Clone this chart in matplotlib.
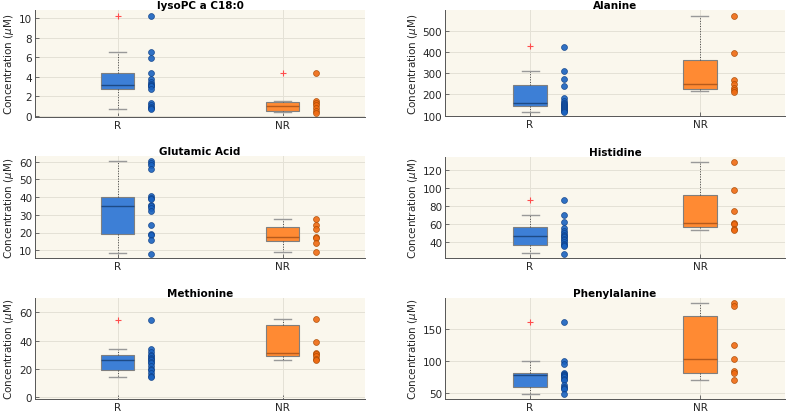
import matplotlib
matplotlib.use("Agg")
import matplotlib.pyplot as plt
import numpy as np

groups = ["R", "NR"]
titles = ["lysoPC a C18:0", "Alanine", "Glutamic Acid", "Histidine", "Methionine", "Phenylalanine"]

# raw points (R, NR) per metabolite
lyso_r = [10.2, 6.5, 5.9, 4.4, 3.8, 3.5, 3.3, 3.2, 3.1, 3.0, 2.7, 1.3, 1.1, 0.9, 0.8, 0.7]
lyso_nr = [4.4, 1.5, 1.3, 1.1, 0.8, 0.5, 0.3]
ala_r = [425, 310, 270, 240, 185, 170, 160, 155, 150, 145, 140, 135, 130, 125, 120, 115]
ala_nr = [570, 393, 268, 248, 232, 222, 213]
glu_r = [60.5, 59.5, 58, 56, 40.5, 39.5, 39, 35.5, 35, 34, 32, 24, 19, 18.5, 15.5, 8]
glu_nr = [27.5, 24, 22, 17.5, 17, 14, 9]
his_r = [87, 70, 63, 56, 53, 50, 48, 47, 46, 44, 42, 40, 38, 37, 36, 27.5]
his_nr = [129, 98, 75, 61, 60, 55, 53.5]
met_r = [54.5, 34, 32, 30, 29, 28, 27, 26, 25, 24, 22, 20, 19, 17, 15, 14]
met_nr = [55, 39, 31.5, 30.5, 29, 27, 26]
phe_r = [160, 100, 96, 81, 80, 79, 78, 77, 75, 72, 70, 62, 60, 58, 57, 48]
phe_nr = [190, 185, 125, 103, 84, 82, 70]

# box stats: q1, med, q3, whislo, whishi, fliers
lyso_box = [(2.7, 3.2, 4.4, 0.7, 6.5, [10.2]), (0.5, 1.05, 1.42, 0.35, 1.5, [4.4])]
ala_box = [(144, 158, 243, 119, 312, [426]), (223, 250, 361, 215, 570, [])]
glu_box = [(19, 35, 40, 8.5, 60.5, []), (15, 17.5, 23, 9, 27.5, [])]
his_box = [(37, 47, 56.5, 28, 70.5, [87]), (56.5, 61, 92, 53.5, 129, [])]
met_box = [(19.5, 26, 30, 14.5, 34, [54.5]), (29, 31.5, 51, 26, 55, [])]
phe_box = [(60, 78, 81, 48, 100, [160]), (82, 103, 170, 70, 190, [])]

points = [(lyso_r, lyso_nr), (ala_r, ala_nr), (glu_r, glu_nr),
          (his_r, his_nr), (met_r, met_nr), (phe_r, phe_nr)]
boxes = [lyso_box, ala_box, glu_box, his_box, met_box, phe_box]
ylims = [(-0.13, 10.85), (98, 597), (5.6, 63.2), (22.6, 134.4), (-1.2, 70), (41, 198)]
yticks = [[0, 2, 4, 6, 8, 10], [100, 200, 300, 400, 500], [10, 20, 30, 40, 50, 60],
          [40, 60, 80, 100, 120], [0, 20, 40, 60], [50, 100, 150]]

box_face = ["#3d7fd6", "#ff8a33"]
med_col = ["#1d4a85", "#b55a1c"]
dot_face = ["#1a62c0", "#ef6a12"]
dot_edge = ["#0d3f86", "#a84800"]

W, H = 787, 414
fig = plt.figure(figsize=(W / 100, H / 100), dpi=100)
fig.patch.set_facecolor("white")

# pixel boxes: (x0, x1, y0, y1)
rects = [(35, 365, 11, 118), (445, 785, 11, 117),
         (35, 365, 157, 259), (445, 785, 158, 259),
         (35, 365, 299, 400), (445, 785, 299, 400)]

for i in range(6):
    x0, x1, y0, y1 = rects[i]
    ax = fig.add_axes([x0 / W, 1 - y1 / H, (x1 - x0) / W, (y1 - y0) / H])
    ax.set_facecolor("#faf7ed")
    for j in range(2):
        q1, med, q3, lo, hi, fl = boxes[i][j]
        st = dict(q1=q1, med=med, q3=q3, whislo=lo, whishi=hi, fliers=fl)
        ax.bxp([st], positions=[j + 1], widths=0.2, patch_artist=True,
               boxprops=dict(facecolor=box_face[j], edgecolor="#7f7f7f", linewidth=0.8),
               medianprops=dict(color=med_col[j], linewidth=1.0),
               whiskerprops=dict(color="#444444", linestyle=":", linewidth=0.7),
               capprops=dict(color="#999999", linewidth=1.0),
               capwidths=0.1,
               flierprops=dict(marker="+", markeredgecolor="#ff4d4d", markersize=5,
                               markeredgewidth=0.8))
        ys = points[i][j]
        ax.scatter(np.full(len(ys), j + 1.2), ys, s=18, color=dot_face[j],
                   edgecolors=dot_edge[j], linewidths=0.5, alpha=0.9, zorder=3)
    ax.set_xlim(0.5, 2.5)
    ax.set_xticks([1, 2])
    ax.set_xticklabels(groups)
    ax.set_ylim(*ylims[i])
    ax.set_yticks(yticks[i])
    ax.grid(True, color="#e4e1d6", linewidth=0.7)
    ax.set_axisbelow(True)
    for s in ["top", "right"]:
        ax.spines[s].set_visible(False)
    for s in ["left", "bottom"]:
        ax.spines[s].set_color("#555555")
        ax.spines[s].set_linewidth(0.7)
    ax.tick_params(direction="in", length=3, width=0.6, colors="#555555", labelsize=7.5,
                   labelcolor="#262626", pad=2)
    ax.set_title(titles[i], fontsize=7.5, fontweight="bold", pad=1.5)
    ax.set_ylabel(r"Concentration ($\mu$M)", fontsize=7.5, color="#262626", labelpad=2)

fig.savefig("out.png", dpi=100)
